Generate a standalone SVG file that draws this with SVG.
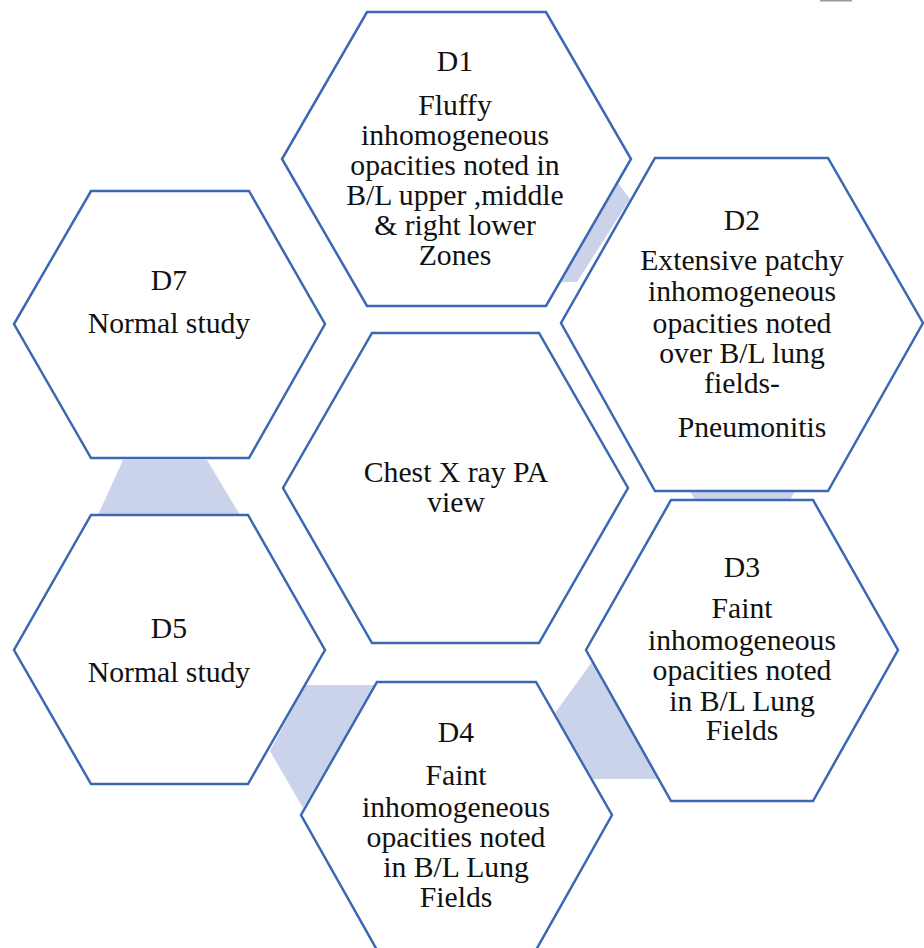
<svg xmlns="http://www.w3.org/2000/svg" width="924" height="948" viewBox="0 0 924 948">
<style>
.hex{fill:#ffffff;stroke:#3C67B3;stroke-width:2.5;stroke-linejoin:miter}
.con{fill:#CBD3EA;stroke:none}
text{font-family:"Liberation Serif","Times New Roman",serif;font-size:29.7px;fill:#111111;text-anchor:middle}
</style>
<rect width="924" height="948" fill="#ffffff"/>
<rect x="820" y="0" width="32" height="1.5" fill="#9a9a9a"/>
<g id="connectors">
<polygon class="con" points="618,183 630,199 577,282 559,282"/>
<polygon class="con" points="690,491 795,491 790,500 695,500"/>
<polygon class="con" points="592,662 555,713 593,779 658,779"/>
<polygon class="con" points="305,685 375,685 303,808 270,751"/>
<polygon class="con" points="123,460 207,460 240,515 98,515"/>
</g>
<g id="center">
<polygon class="hex" points="372,333 539,333 628,488 539,643 372,643 283,488"/>
<text x="456" y="482">Chest X ray PA</text>
<text x="456" y="512">view</text>
</g>
<g id="D1">
<polygon class="hex" points="367,12 546,12 631,159 546,306 367,306 282,159"/>
<text x="455" y="71">D1</text>
<text x="455" y="115">Fluffy</text>
<text x="455" y="145">inhomogeneous</text>
<text x="455" y="175">opacities noted in</text>
<text x="455" y="205">B/L upper ,middle</text>
<text x="455" y="235">&amp; right lower</text>
<text x="455" y="265">Zones</text>
</g>
<g id="D2">
<polygon class="hex" points="655,158 828,158 923,323 828,491 655,491 561,323"/>
<text x="742" y="230">D2</text>
<text x="742" y="270">Extensive patchy</text>
<text x="742" y="301">inhomogeneous</text>
<text x="742" y="333">opacities noted</text>
<text x="742" y="363">over B/L lung</text>
<text x="742" y="393">fields-</text>
<text x="752" y="437">Pneumonitis</text>
</g>
<g id="D3">
<polygon class="hex" points="671,500 813,500 898,650 813,801 671,801 586,650"/>
<text x="742" y="577">D3</text>
<text x="742" y="618">Faint</text>
<text x="742" y="650">inhomogeneous</text>
<text x="742" y="680">opacities noted</text>
<text x="742" y="711">in B/L Lung</text>
<text x="742" y="740">Fields</text>
</g>
<g id="D4">
<polygon class="hex" points="377,682 536,682 612,815 536,950 377,950 301,815"/>
<text x="456" y="742">D4</text>
<text x="456" y="785">Faint</text>
<text x="456" y="817">inhomogeneous</text>
<text x="456" y="847">opacities noted</text>
<text x="456" y="877">in B/L Lung</text>
<text x="456" y="907">Fields</text>
</g>
<g id="D5">
<polygon class="hex" points="91,515 248,515 325,650 248,784 91,784 14,650"/>
<text x="169" y="638">D5</text>
<text x="169" y="682">Normal study</text>
</g>
<g id="D7">
<polygon class="hex" points="91,191 249,191 325,324 249,458 91,458 14,324"/>
<text x="169" y="290">D7</text>
<text x="169" y="333">Normal study</text>
</g>
</svg>
